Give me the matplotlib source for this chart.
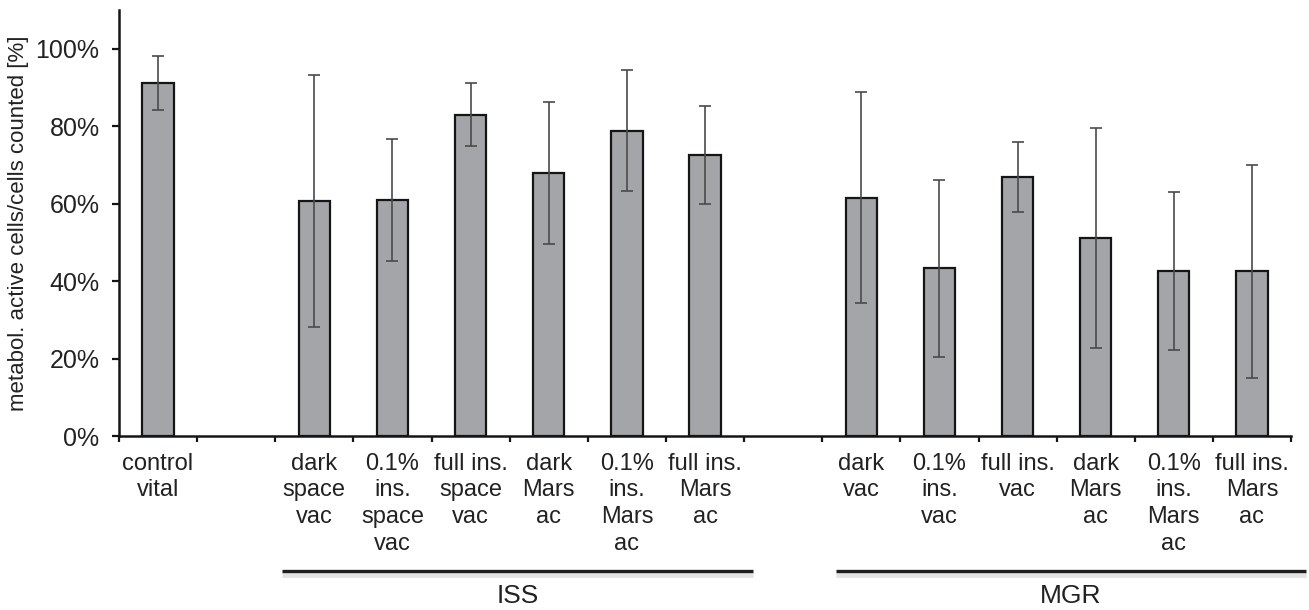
import numpy as np
import matplotlib
matplotlib.use("Agg")
import matplotlib.pyplot as plt
import matplotlib.transforms as mtransforms

plt.rcParams['font.family'] = ['Liberation Sans', 'DejaVu Sans']

# data (empty slots are gaps between groups)
labels = ["control\nvital", "",
          "dark\nspace\nvac", "0.1%\nins.\nspace\nvac", "full ins.\nspace\nvac",
          "dark\nMars\nac", "0.1%\nins.\nMars\nac", "full ins.\nMars\nac", "",
          "dark\nvac", "0.1%\nins.\nvac", "full ins.\nvac",
          "dark\nMars\nac", "0.1%\nins.\nMars\nac", "full ins.\nMars\nac"]
means = [91.2, np.nan, 60.6, 60.9, 83.0, 67.9, 78.8, 72.6, np.nan,
         61.5, 43.3, 66.8, 51.1, 42.6, 42.6]
errors = [7.0, np.nan, 32.5, 15.7, 8.2, 18.3, 15.6, 12.6, np.nan,
          27.2, 22.8, 9.0, 28.4, 20.3, 27.5]
groups = ["ISS", "MGR"]
group_spans = [(1.59, 7.62), (8.67, 14.69)]

txt = '#222222'
fig = plt.figure(figsize=(13.09, 6.10), dpi=100)
ax = fig.add_axes([0.0909, 0.2852, 0.8954, 0.6984])

x = np.arange(len(labels))
ax.bar(x, means, width=0.4, color='#a3a5a8', edgecolor='#151515', linewidth=1.6,
       yerr=errors, capsize=4,
       error_kw=dict(ecolor='#4a4a4a', elinewidth=1.2, capthick=1.2))

ax.set_xlim(-0.5, len(labels) - 0.5)
ax.set_ylim(0, 110)
ax.set_yticks(np.arange(0, 101, 20))
ax.set_yticklabels([f"{v}%" for v in range(0, 101, 20)])

ax.set_xticks(np.arange(-0.5, len(labels), 1.0))
ax.set_xticklabels([])
ax.set_xticks(x, minor=True)
ax.set_xticklabels(labels, minor=True, linespacing=1.28)

for s in ['top', 'right']:
    ax.spines[s].set_visible(False)
for s in ['left', 'bottom']:
    ax.spines[s].set_linewidth(1.8)
    ax.spines[s].set_color('#151515')

ax.tick_params(axis='y', which='major', direction='out', length=5, width=1.6,
               color='#151515', labelsize=18, labelcolor=txt, pad=9)
ax.tick_params(axis='x', which='major', direction='out', length=4.5, width=1.6,
               color='#151515')
ax.tick_params(axis='x', which='minor', length=0, labelsize=17,
               labelcolor=txt, pad=12)

ax.set_ylabel("metabol. active cells/cells counted [%]", fontsize=16,
              color=txt)
ax.yaxis.set_label_coords(-0.0766, 0.5)

# group bars under the labels
trans = mtransforms.blended_transform_factory(ax.transData, ax.transAxes)
for name, (a, b) in zip(groups, group_spans):
    ax.plot([a, b], [-0.326, -0.326], transform=trans, clip_on=False,
            color='#e2e2e2', lw=3.5, solid_capstyle='butt')
    ax.plot([a, b], [-0.317, -0.317], transform=trans, clip_on=False,
            color='#1e1e1e', lw=2.4, solid_capstyle='butt')
    ax.text((a + b) / 2, -0.376, name, transform=trans, ha='center',
            va='center', fontsize=19, color=txt)

fig.savefig("out.png", dpi=100)
